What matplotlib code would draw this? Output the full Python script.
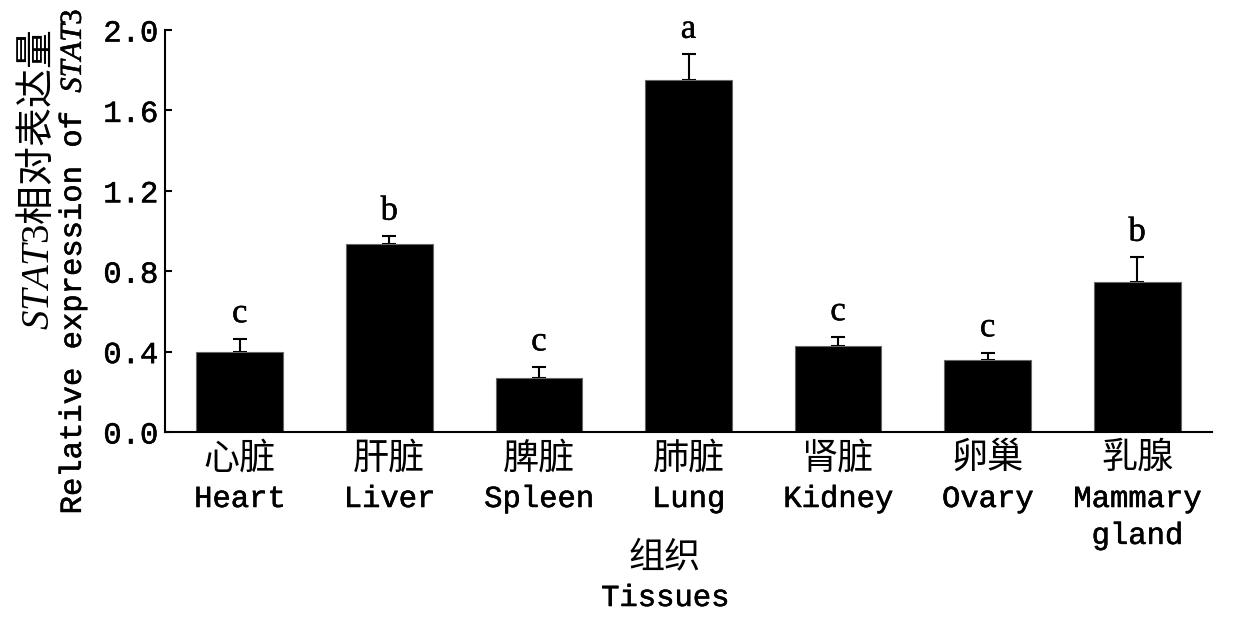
import matplotlib
matplotlib.use("Agg")
import matplotlib.pyplot as plt
import matplotlib.transforms as mtransforms
import matplotlib.patheffects as pe

plt.rcParams["mathtext.fontset"] = "custom"
plt.rcParams["mathtext.it"] = "Liberation Serif:italic"
plt.rcParams["mathtext.rm"] = "Liberation Serif"

# data
tissues_cn = ["心脏", "肝脏", "脾脏", "肺脏", "肾脏", "卵巢", "乳腺"]
tissues_en = ["Heart", "Liver", "Spleen", "Lung", "Kidney", "Ovary", "Mammary\ngland"]
expression = [0.40, 0.935, 0.27, 1.75, 0.43, 0.36, 0.745]
errors = [0.065, 0.04, 0.055, 0.13, 0.045, 0.035, 0.125]
letters = ["c", "b", "c", "a", "c", "c", "b"]
yticks = [0.0, 0.4, 0.8, 1.2, 1.6, 2.0]

MONO = "Liberation Mono"
CJK = "Noto Sans CJK SC"
# thicken the thin Courier-like strokes a little
thick = [pe.withStroke(linewidth=0.4, foreground="black")]

fig = plt.figure(figsize=(12.38, 6.29), dpi=100)
ax = fig.add_axes([165 / 1238, 1 - 432 / 629, (1212 - 165) / 1238, (432 - 30) / 629])

x = list(range(len(expression)))
# error bars under the bars, so only the upper half shows
ax.errorbar(x, expression, yerr=[[0] * len(errors), errors], fmt="none",
            ecolor="black", elinewidth=1.5, capsize=5, capthick=1.5, zorder=1)
ax.bar(x, expression, width=0.58, color="black", edgecolor="#666666", linewidth=0.8, zorder=2)

for xi, v, e, lab in zip(x, expression, errors, letters):
    ax.annotate(lab, (xi, v + e), xytext=(0, 6), textcoords="offset points",
                ha="center", va="bottom", fontsize=25, family="Liberation Serif",
                path_effects=[pe.withStroke(linewidth=0.3, foreground="black")])

ax.set_xlim(-0.5, len(expression) - 0.5)
ax.set_ylim(0, 2.0)
ax.set_yticks(yticks)
ax.set_yticklabels([f"{t:.1f}" for t in yticks], family=MONO, fontsize=22)
for lbl in ax.get_yticklabels():
    lbl.set_path_effects(thick)
ax.set_xticks([])
ax.tick_params(axis="y", direction="in", length=5, width=1.5, pad=5)
for side in ["top", "right"]:
    ax.spines[side].set_visible(False)
for side in ["left", "bottom"]:
    ax.spines[side].set_linewidth(1.5)
    ax.spines[side].set_zorder(3)

# two-line category labels under each bar
trans = mtransforms.blended_transform_factory(ax.transData, fig.transFigure)
for xi, cn, en in zip(x, tissues_cn, tissues_en):
    ax.text(xi, 1 - 458 / 629, cn, transform=trans, ha="center", va="center",
            fontsize=26, family=CJK)
    ax.text(xi, 1 - 484 / 629, en, transform=trans, ha="center", va="top",
            fontsize=22, family=MONO, linespacing=1.3, path_effects=thick)

fig.text(665 / 1238, 1 - 557 / 629, "组织", ha="center", va="center", fontsize=26, family=CJK)
fig.text(665 / 1238, 1 - 598 / 629, "Tissues", ha="center", va="center", fontsize=22,
         family=MONO, path_effects=thick)

fig.text(38 / 1238, 1 - 180 / 629, r"$\mathit{STAT3}$相对表达量", rotation=90,
         ha="center", va="center", fontsize=28, family=CJK)
fig.text(73 / 1238, 1 - 262 / 629, r"Relative expression of $\mathit{STAT3}$", rotation=90,
         ha="center", va="center", fontsize=22, family=MONO, path_effects=thick)

fig.savefig("out.png", dpi=100)
